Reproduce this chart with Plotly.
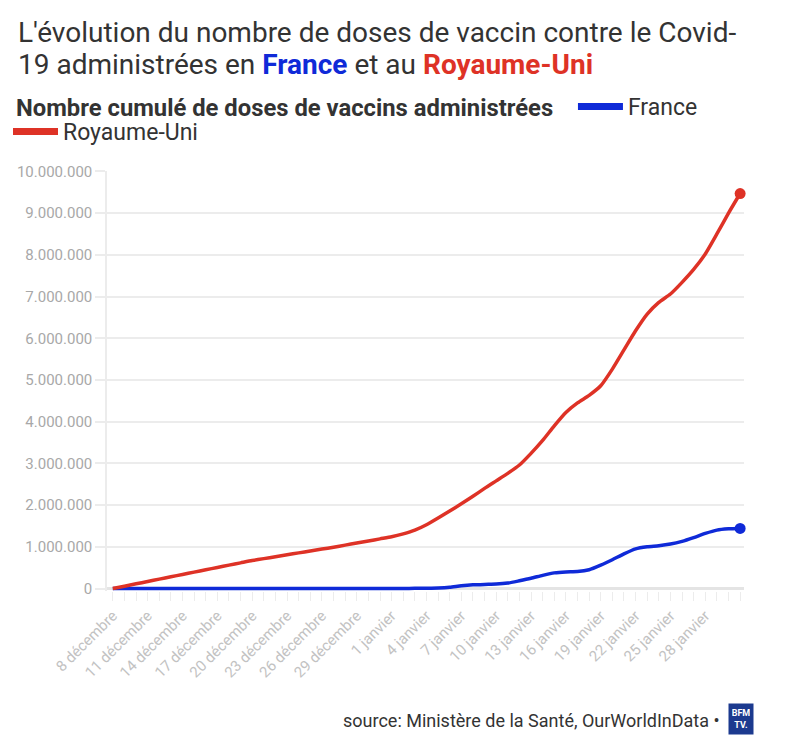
import pandas as pd
import plotly.graph_objects as go

# cumulative doses, one value per day from 8 Dec 2020 to 31 Jan 2021
uk = [0, 56000, 112000, 168000, 224000, 280000, 336000, 392000, 448000, 504000,
      560000, 615000, 670000, 716000, 762000, 808000, 854000, 900000, 945000, 990000,
      1040000, 1090000, 1140000, 1190000, 1240000, 1310000, 1400000, 1530000, 1690000, 1860000,
      2030000, 2210000, 2400000, 2580000, 2760000, 2960000, 3240000, 3550000, 3900000, 4220000,
      4450000, 4630000, 4860000, 5260000, 5720000, 6180000, 6580000, 6860000, 7060000, 7340000,
      7650000, 8020000, 8500000, 9000000, 9470000]
france = [0, 0, 0, 0, 0, 0, 0, 0, 0, 0,
          0, 0, 0, 0, 0, 0, 0, 0, 0, 0,
          0, 0, 0, 0, 0, 1000, 3000, 6000, 12000, 30000,
          65000, 88000, 98000, 105000, 130000, 185000, 245000, 315000, 375000, 398000,
          405000, 450000, 560000, 690000, 830000, 950000, 1000000, 1025000, 1065000, 1130000,
          1220000, 1320000, 1400000, 1430000, 1440000]
dates = pd.date_range("2020-12-08", periods=len(uk), freq="D")

tick_vals = ["2020-12-08", "2020-12-11", "2020-12-14", "2020-12-17", "2020-12-20", "2020-12-23",
             "2020-12-26", "2020-12-29", "2021-01-01", "2021-01-04", "2021-01-07", "2021-01-10",
             "2021-01-13", "2021-01-16", "2021-01-19", "2021-01-22", "2021-01-25", "2021-01-28"]
tick_text = ["8 décembre", "11 décembre", "14 décembre", "17 décembre", "20 décembre",
             "23 décembre", "26 décembre", "29 décembre", "1 janvier", "4 janvier", "7 janvier",
             "10 janvier", "13 janvier", "16 janvier", "19 janvier", "22 janvier", "25 janvier",
             "28 janvier"]

BLUE = "#0f2ad8"
RED = "#de3226"
GRID = "#ececec"
FONT = "Roboto, sans-serif"
L, R, T, B = 107, 56, 171, 161
PW, PH = 800 - L - R, 752 - T - B


def px(x):
    return (x - L) / PW


def py(y):
    return (752 - B - y) / PH


fig = go.Figure()
fig.add_trace(go.Scatter(x=dates, y=france, name="France", mode="lines", showlegend=False,
                         line=dict(color=BLUE, width=3.5, shape="spline", smoothing=0.6)))
fig.add_trace(go.Scatter(x=dates, y=uk, name="Royaume-Uni", mode="lines", showlegend=False,
                         line=dict(color=RED, width=3.5, shape="spline", smoothing=0.6)))
# end dots
fig.add_trace(go.Scatter(x=[dates[-1]], y=[france[-1]], mode="markers", showlegend=False,
                         marker=dict(color=BLUE, size=11), cliponaxis=False))
fig.add_trace(go.Scatter(x=[dates[-1]], y=[uk[-1]], mode="markers", showlegend=False,
                         marker=dict(color=RED, size=11), cliponaxis=False))
# legend entries (thicker keys than the plotted lines)
fig.add_trace(go.Scatter(x=[None], y=[None], name="France", mode="lines", legend="legend",
                         line=dict(color=BLUE, width=7)))
fig.add_trace(go.Scatter(x=[None], y=[None], name="Royaume-Uni", mode="lines", legend="legend2",
                         line=dict(color=RED, width=7)))

fig.update_layout(
    width=800, height=752, template="plotly_white",
    margin=dict(l=L, r=R, t=T, b=B),
    font=dict(family=FONT, color="#333333"),
    separators=",.",
    hovermode=False,
    showlegend=True,
    legend=dict(
        orientation="h", xref="container", yref="container",
        x=14 / 800, xanchor="left", y=1 - 85 / 752, yanchor="top",
        bgcolor="rgba(0,0,0,0)",
        title=dict(text="<b>Nombre cumulé de doses de vaccins administrées</b>  ",
                   font=dict(size=23.8, color="#333333"), side="left"),
        font=dict(size=23, color="#333333"), itemwidth=45,
    ),
    legend2=dict(
        orientation="h", xref="container", yref="container",
        x=8 / 800, xanchor="left", y=1 - 110 / 752, yanchor="top",
        bgcolor="rgba(0,0,0,0)",
        font=dict(size=23, color="#333333"), itemwidth=45,
    ),
    plot_bgcolor="white", paper_bgcolor="white",
)

# two-line title, one annotation per line to control the spacing
fig.add_annotation(
    text="L'évolution du nombre de doses de vaccin contre le Covid-",
    xref="paper", yref="paper", x=px(16), xanchor="left", y=py(14), yanchor="top",
    align="left", showarrow=False, font=dict(size=28, color="#333333"),
)
fig.add_annotation(
    text=(f"19 administrées en <b><span style='color:{BLUE}'>France</span></b> et au "
          f"<b><span style='color:{RED}'>Royaume-Uni</span></b>"),
    xref="paper", yref="paper", x=px(16), xanchor="left", y=py(46), yanchor="top",
    align="left", showarrow=False, font=dict(size=28, color="#333333"),
)

fig.update_xaxes(
    range=[pd.Timestamp("2020-12-07 12:00"), pd.Timestamp("2021-01-31 08:00")],
    tickmode="array", tickvals=tick_vals, ticktext=tick_text,
    tickangle=-45, tickfont=dict(size=15, color="#c2c2c2"),
    showgrid=False, showline=False, zeroline=False, automargin=False,
    ticks="outside", ticklen=9, tickcolor=GRID, tickwidth=1,
    minor=dict(dtick=86400000, tick0="2020-12-08", ticks="outside", ticklen=9,
               tickcolor=GRID, tickwidth=1, showgrid=False),
)
fig.update_yaxes(
    range=[-60000, 10010000], tickmode="linear", tick0=0, dtick=1000000,
    tickformat=",d", tickfont=dict(size=15, color="#a8a8a8"),
    showgrid=True, gridcolor=GRID, gridwidth=1.5, automargin=False,
    zeroline=True, zerolinecolor="#e4e4e4", zerolinewidth=2.5,
    showline=True, linecolor=GRID, linewidth=1.5,
    ticks="outside", ticklen=10, tickcolor=GRID, tickwidth=1.5,
)

fig.add_annotation(
    text="source: Ministère de la Santé, OurWorldInData •",
    xref="paper", yref="paper", x=px(722), xanchor="right",
    y=py(720), yanchor="middle", showarrow=False,
    font=dict(size=18, color="#333333"),
)
# BFMTV logo block
fig.add_annotation(
    text="<b>BFM<br>TV.</b>", xref="paper", yref="paper",
    x=px(740.5), y=py(718.5), xanchor="center", yanchor="middle", showarrow=False,
    font=dict(size=9, color="white"), align="center",
    bgcolor="#1c3a8f", borderpad=3, width=18, height=24,
)

# the page body keeps an 8px default margin; drop it so the figure sits at 0,0
fig.write_html("out.html", config={"displayModeBar": False},
               post_script="document.body.style.margin='0px';")
